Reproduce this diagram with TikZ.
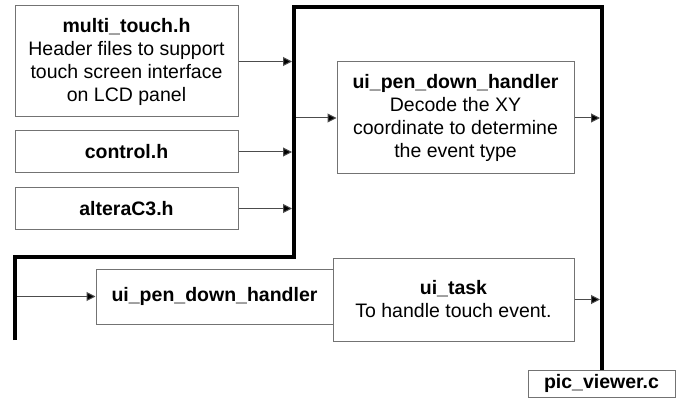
\documentclass[tikz,border=0pt]{standalone}
\usepackage{fontspec}
\setmainfont{Liberation Sans}
\usetikzlibrary{arrows.meta}
\begin{document}
\begin{tikzpicture}[x=1pt,y=-1pt,
  box/.style={draw=black!55,line width=1pt,fill=white,inner sep=0pt,align=center,
    font=\fontsize{19.5}{23}\selectfont},
  link/.style={draw=black!70,line width=1pt,-{Triangle[length=9pt,width=9pt,fill=black]}},
  bus/.style={line width=4pt,line join=miter}]
\useasboundingbox (0,0) rectangle (685,398);

% source headers and tasks
\node[box,minimum width=223pt,minimum height=111pt] (mt) at (126.5,61.5)
  {\textbf{multi\_touch.h}\\Header files to support\\touch screen interface\\on LCD panel};
\node[box,minimum width=223pt,minimum height=42pt] (ctl) at (126.5,152) {\textbf{control.h}};
\node[box,minimum width=223pt,minimum height=41pt] (alt) at (126.5,208.5) {\textbf{alteraC3.h}};
\node[box,minimum width=237pt,minimum height=112pt] (upd) at (455.5,118)
  {\textbf{ui\_pen\_down\_handler}\\Decode the XY\\coordinate to determine\\the event type};
\node[box,minimum width=237pt,minimum height=55pt] (upd2) at (214.5,296.5) {\textbf{ui\_pen\_down\_handler}};
\node[box,minimum width=241pt,minimum height=83pt] (task) at (453.5,299.5)
  {\textbf{ui\_task}\\To handle touch event.};
\node[box,minimum width=147pt,minimum height=27pt] (pv) at (601.5,383.5) {\textbf{pic\_viewer.c}};

% module boundary
\coordinate (bl) at (15,340);
\coordinate (bm) at (294,257);
\coordinate (bt) at (602,7);
\draw[bus] (bl) -- (bl |- bm) -- (bm) -- (bm |- bt) -- (bt) -- (bt |- pv.north);

% edges of the boundary where arrows land or start
\coordinate (inL) at (292,0);
\coordinate (inR) at (600,0);
\coordinate (outL) at (296,0);
\coordinate (outB) at (17,0);

\draw[link] (mt.east) -- (mt.east -| inL);
\draw[link] (ctl.east) -- (ctl.east -| inL);
\draw[link] (alt.east) -- (alt.east -| inL);
\draw[link] (upd.west -| outL) -- (upd.west);
\draw[link] (upd.east) -- (upd.east -| inR);
\draw[link] (upd2.west -| outB) -- (upd2.west);
\draw[link] (task.east) -- (task.east -| inR);
\end{tikzpicture}
\end{document}
